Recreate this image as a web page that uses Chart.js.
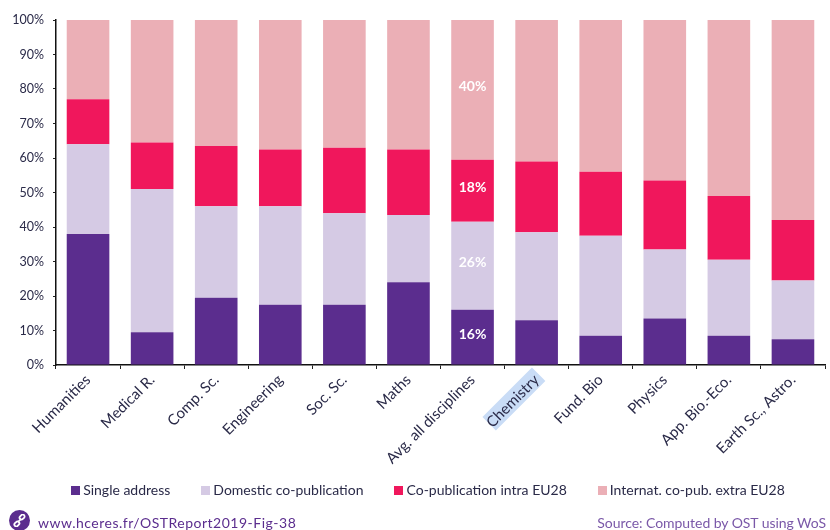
<!DOCTYPE html>
<html><head><meta charset="utf-8">
<style>
html,body{margin:0;padding:0;background:#fff;overflow:hidden}
#wrap{position:relative;width:830px;height:530px}
canvas{position:absolute;left:0;top:0}
.foot{position:absolute;font-family:Lato,sans-serif;white-space:nowrap}
#url{left:38px;top:514px;color:#5b2d8e;font-size:14px;letter-spacing:.5px}
#src{right:4px;top:514px;color:#7a58a8;font-size:14px;letter-spacing:-.05px}
#icon{position:absolute;left:9px;top:510px;width:21px;height:21px;border-radius:50%;background:#5b2d8e}
#icon svg{position:absolute;left:4px;top:4px}
</style></head><body>
<div id="wrap"><canvas id="c" width="830" height="530"></canvas>
<div id="icon"><svg width="13" height="13" viewBox="0 0 13 13" fill="none" stroke="#fff" stroke-width="1.8"><rect x="6.3" y="1.2" width="5.5" height="3.8" rx="1.9" transform="rotate(-45 9 3)"/><rect x="1.2" y="8" width="5.5" height="3.8" rx="1.9" transform="rotate(-45 4 10)"/><path d="M4.8 8.2 8.2 4.8"/></svg></div>
<div class="foot" id="url">www.hceres.fr/OSTReport2019-Fig-38</div>
<div class="foot" id="src">Source: Computed by OST using WoS</div>
</div>
<script src="https://cdn.jsdelivr.net/npm/chart.js@4"></script>
<script>
const categories=["Humanities","Medical R.","Comp. Sc.","Engineering","Soc. Sc.","Maths","Avg. all disciplines","Chemistry","Fund. Bio","Physics","App. Bio.-Eco.","Earth Sc., Astro."];
const singleAddress=[38,9.5,19.5,17.5,17.5,24,16,13,8.5,13.5,8.5,7.5];
const domestic=[26,41.5,26.5,28.5,26.5,19.5,25.5,25.5,29,20,22,17];
const intraEU=[13,13.5,17.5,16.5,19,19,18,20.5,18.5,20,18.5,17.5];
const extraEU=[23,35.5,36.5,37.5,37,37.5,40.5,41,44,46.5,51,58];
const seriesNames=["Single address","Domestic co-publication","Co-publication intra EU28","Internat. co-pub. extra EU28"];
const seriesColors=["#5b2d8e","#d5cae4","#f0175c","#ebafb6"];
const yTicks=[0,10,20,30,40,50,60,70,80,90,100];
const avgLabels=["16%","26%","18%","40%"];
const avgIndex=6, highlightIndex=7;
const textColor="#2a2a48";
const font="Lato, sans-serif";

function swatch(color){
 const k=document.createElement("canvas");k.width=9;k.height=9;
 const g=k.getContext("2d");g.fillStyle=color;g.fillRect(0,0,9,9);return k;
}
const overlay={id:"overlay",
 afterLayout(chart){
  chart.legend.left+=17.5;chart.legend.right+=17.5;
  chart.scales.x.bottom+=30;
 },
 beforeDraw(chart){
  const x=chart.scales.x, ctx=chart.ctx;
  const px=x.getPixelForTick(highlightIndex);
  ctx.save();ctx.translate(px+1,x.top+11);ctx.rotate(-Math.PI/4);
  ctx.fillStyle="#c9dcf6";ctx.fillRect(-68,-10,70,19);ctx.restore();
 },
 afterDatasetsDraw(chart){
  const ctx=chart.ctx;
  ctx.save();ctx.font="bold 14px "+font;ctx.textAlign="center";ctx.textBaseline="middle";ctx.fillStyle="#ffffff";
  avgLabels.forEach((t,i)=>{
   const el=chart.getDatasetMeta(i).data[avgIndex];
   ctx.fillText(t,el.x,(el.y+el.base)/2-3);
  });
  ctx.restore();
 }};

new Chart(document.getElementById("c"),{
 type:"bar",
 data:{labels:categories,datasets:[singleAddress,domestic,intraEU,extraEU].map((d,i)=>({
   label:seriesNames[i],data:d,backgroundColor:seriesColors[i],borderWidth:0,pointStyle:swatch(seriesColors[i]),
   categoryPercentage:1,barPercentage:0.665}))},
 plugins:[overlay],
 options:{responsive:false,animation:false,
  layout:{padding:{left:0,right:5,top:20,bottom:23}},
  plugins:{tooltip:{enabled:false},
   legend:{position:"bottom",align:"center",labels:{usePointStyle:true,pointStyleWidth:1,boxHeight:9,padding:35,color:textColor,font:{family:font,size:14}}}},
  scales:{
   x:{stacked:true,grid:{display:true,drawOnChartArea:false,drawTicks:true,tickLength:4,color:"#222",offset:true},
      border:{display:true,color:"#111",width:1.5},
      ticks:{autoSkip:false,maxRotation:45,minRotation:45,color:textColor,padding:2,font:{family:font,size:15}},
      afterFit(s){s.height=83;}},
   y:{stacked:true,min:0,max:100,afterBuildTicks(s){s.ticks=yTicks.map(v=>({value:v}));},
      grid:{drawOnChartArea:false,drawTicks:true,tickLength:3,color:"#222"},
      border:{display:true,color:"#111",width:1.5},
      ticks:{color:textColor,padding:9,font:{family:font,size:12.5},callback:v=>v+"%"},
      afterFit(s){s.width=56;}}
  }}
});
</script></body></html>
